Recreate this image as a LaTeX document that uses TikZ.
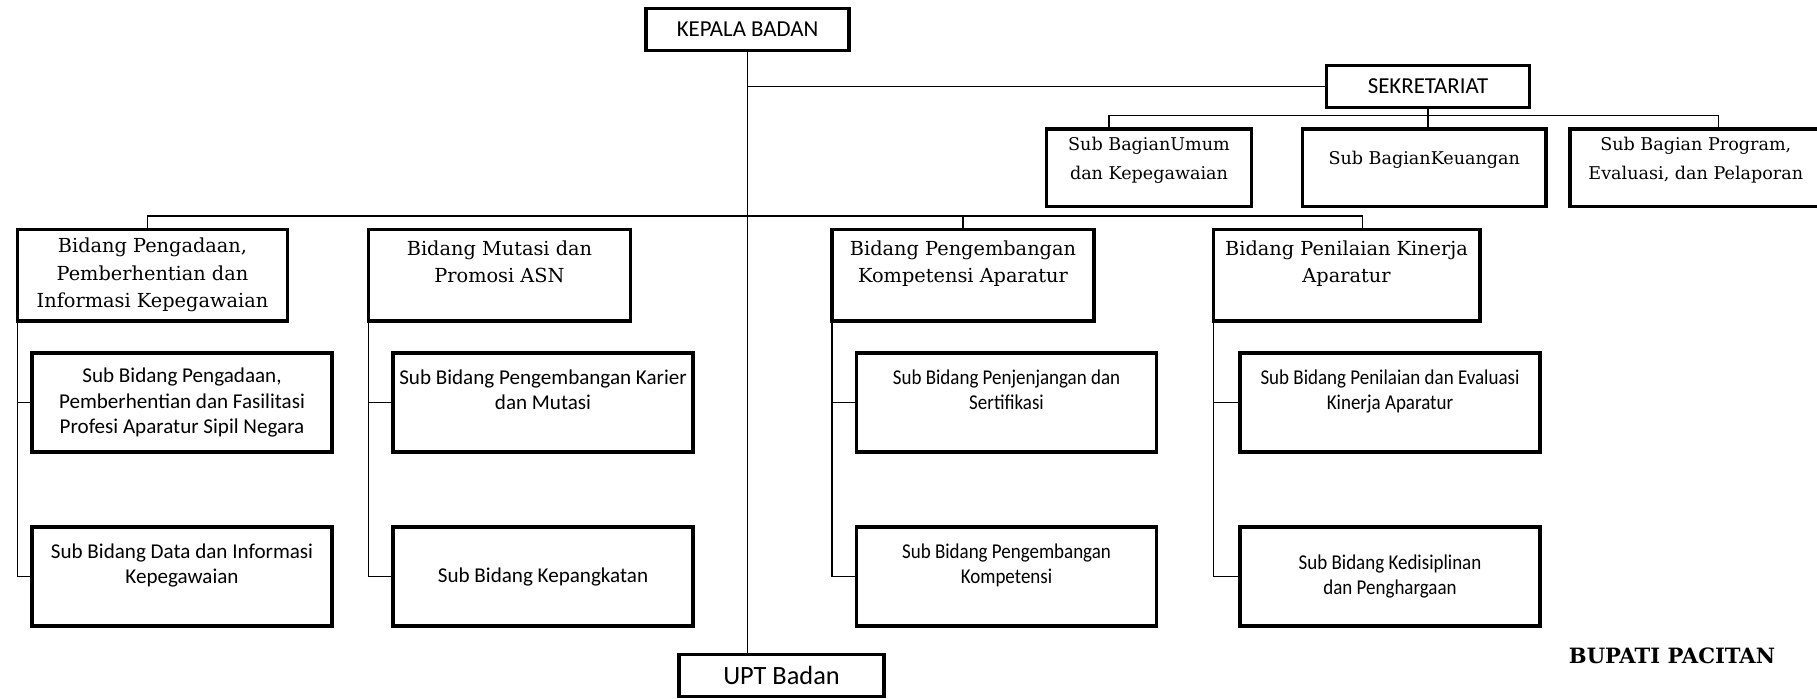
\documentclass[tikz,border=0pt]{standalone}
\usepackage{fontspec}
\setmainfont{DejaVu Serif}
\newfontfamily\sansf{Carlito}
\newfontfamily\sansn[FakeStretch=0.9]{Carlito}
\usetikzlibrary{positioning}

\begin{document}
\begin{tikzpicture}[
    box/.style={draw, line width=2pt, align=center, inner sep=2pt},
    head/.style={box, font=\sansf\fontsize{13}{15}\selectfont, minimum width=4.06cm, minimum height=0.84cm},
    bidang/.style={box, font=\fontsize{11}{15.5}\selectfont, minimum height=1.83cm},
    subbag/.style={box, font=\fontsize{10}{16.5}\selectfont, minimum height=1.55cm},
    subbid/.style={box, font=\sansf\fontsize{12}{14.5}\selectfont, minimum width=6cm, minimum height=1.98cm},
    subbidn/.style={subbid, font=\sansn\fontsize{12}{14.5}\selectfont},
    link/.style={line width=0.6pt}
  ]
    \useasboundingbox (0,0) rectangle (36.34,-13.96);
    % pimpinan dan sekretariat
    \node[head] (kb) at (14.95,-0.59) {KEPALA BADAN};
    \node[head] (sek) at (28.56,-1.73) {SEKRETARIAT};
    \node[subbag, minimum width=4.1cm] (sbu) at (22.98,-3.35) {Sub BagianUmum\\dan Kepegawaian\\[-6pt]~};
    \node[subbag, minimum width=4.87cm, right=0.95cm of sbu] (sbk) {Sub BagianKeuangan\\[-6pt]~};
    \node[subbag, minimum width=5.03cm, right=0.41cm of sbk] (sbp) {Sub Bagian Program,\\Evaluasi, dan Pelaporan\\[-6pt]~};
    % bidang
    \node[bidang, minimum width=5.40cm] (bpp) at (3.05,-5.50) {Bidang Pengadaan,\\Pemberhentian dan\\Informasi Kepegawaian};
    \node[bidang, minimum width=5.24cm] (bmp) at (9.99,-5.50) {Bidang Mutasi dan\\Promosi ASN\\~};
    \node[bidang, minimum width=5.24cm] (bpk) at (19.26,-5.50) {Bidang Pengembangan\\Kompetensi Aparatur\\~};
    \node[bidang, minimum width=5.33cm] (bpn) at (26.93,-5.50) {Bidang Penilaian Kinerja\\Aparatur\\~};
    % sub bidang
    \node[subbid] (spp1) at (3.64,-8.05) {Sub Bidang Pengadaan,\\Pemberhentian dan Fasilitasi\\Profesi Aparatur Sipil Negara};
    \node[subbid, below=1.43cm of spp1] (spp2) {Sub Bidang Data dan Informasi\\Kepegawaian\\~};
    \node[subbid] (smp1) at (10.86,-8.05) {Sub Bidang Pengembangan Karier\\dan Mutasi\\~};
    \node[subbid, below=1.43cm of smp1] (smp2) {Sub Bidang Kepangkatan};
    \node[subbidn] (spk1) at (20.13,-8.05) {Sub Bidang Penjenjangan dan\\Sertifikasi\\~};
    \node[subbidn, below=1.43cm of spk1] (spk2) {Sub Bidang Pengembangan\\Kompetensi\\~};
    \node[subbidn] (spn1) at (27.80,-8.05) {Sub Bidang Penilaian dan Evaluasi\\Kinerja Aparatur\\~};
    \node[subbidn, below=1.43cm of spn1] (spn2) {Sub Bidang Kedisiplinan\\dan Penghargaan};
    % upt dan tanda tangan
    \node[head, minimum width=4.1cm, font=\sansf\fontsize{15}{18}\selectfont] (upt) at (15.63,-13.51) {UPT Badan};
    \node[font=\bfseries\fontsize{12}{14}\selectfont] (bupati) at (33.44,-13.12) {BUPATI PACITAN};

    \draw[link] (kb.south) -- (kb.south |- upt.north);
    \draw[link] (kb.south |- sek.west) -- (sek.west);
    \draw[link] (sek.south) -- (sek.south |- sbk.north);
    \draw[link] ([xshift=-0.8cm]sbu.north) -- ++(0,0.23) -| ([xshift=0.45cm]sbp.north);
    \draw[link] ([xshift=-0.1cm]bpp.north) -- ++(0,0.23) -| ([xshift=0.32cm]bpn.north);
    \draw[link] (bpk.north) -- ++(0,0.23);
    \foreach \n in {pp,mp,pk,pn} {
      \draw[link] ([xshift=1pt]b\n.south west) |- (s\n1.west);
      \draw[link] ([xshift=1pt]b\n.south west) |- (s\n2.west);
    }
  \end{tikzpicture}
\end{document}
